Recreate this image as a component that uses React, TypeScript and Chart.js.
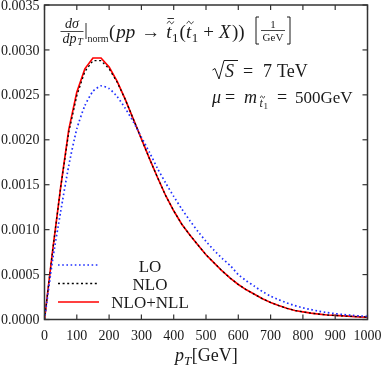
import React, { useEffect, useRef } from 'react';
import { Chart, registerables } from 'chart.js';

Chart.register(...registerables);

// ---- data ----
const pT = [0, 25, 50, 75, 100, 125, 150, 175, 200, 225, 250, 275, 300, 325, 350, 375, 400, 425, 450, 475, 500, 525, 550, 575, 600, 625, 650, 675, 700, 725, 750, 775, 800, 825, 850, 875, 900, 925, 950, 975, 1000];

const LO = [0, 0.00066, 0.0012, 0.00171, 0.00212, 0.00238, 0.00254, 0.0026, 0.00257, 0.00248, 0.00235, 0.0022, 0.00203, 0.00186, 0.00168, 0.00152, 0.00137, 0.00123, 0.0011, 0.00098, 0.00087, 0.00077, 0.00068, 0.0006, 0.0005, 0.00043, 0.00037, 0.00031, 0.00026, 0.00022, 0.000185, 0.000155, 0.00013, 0.00011, 0.000092, 0.000077, 0.000065, 0.000055, 0.000047, 0.00004, 0.000035];

const NLO = [0, 0.00076, 0.00147, 0.00208, 0.00249, 0.00276, 0.00288, 0.00288, 0.00279, 0.00264, 0.00245, 0.00223, 0.00201, 0.00179, 0.00158, 0.00138, 0.00121, 0.00106, 0.00094, 0.00083, 0.00072, 0.00063, 0.00054, 0.00046, 0.00039, 0.00033, 0.00028, 0.00023, 0.00019, 0.000155, 0.000125, 0.0001, 0.000085, 0.00007, 0.00006, 0.00005, 0.000045, 0.00004, 0.000035, 0.00003, 0.000027];

const NLO_NLL = [0, 0.00076, 0.00147, 0.00211, 0.00253, 0.00279, 0.00291, 0.00291, 0.00281, 0.00265, 0.00245, 0.00223, 0.00201, 0.00179, 0.00158, 0.00138, 0.00121, 0.00106, 0.00094, 0.00083, 0.00072, 0.00063, 0.00054, 0.00046, 0.00039, 0.00033, 0.00028, 0.00023, 0.00019, 0.000155, 0.000125, 0.0001, 0.000085, 0.00007, 0.00006, 0.00005, 0.000045, 0.00004, 0.000035, 0.00003, 0.000027];

const seriesLabels = ['LO', 'NLO', 'NLO+NLL'];

const xTicks = [0, 100, 200, 300, 400, 500, 600, 700, 800, 900, 1000];
const xTickLabels = ['0', '100', '200', '300', '400', '500', '600', '700', '800', '900', '1000'];
const yTicks = [0, 0.0005, 0.001, 0.0015, 0.002, 0.0025, 0.003, 0.0035];
const yTickLabels = ['0.0000', '0.0005', '0.0010', '0.0015', '0.0020', '0.0025', '0.0030', '0.0035'];

// ---- styling helpers ----
const SERIF = "'Liberation Serif', 'Times New Roman', serif";
const fnt = (size: number, italic = false) => `${italic ? 'italic ' : ''}${size}px ${SERIF}`;

const lookup = (vals: number[], labels: string[], v: number) => {
  const k = vals.findIndex((t) => Math.abs(t - v) < 1e-9);
  return k >= 0 ? labels[k] : '';
};

function seg(ctx: CanvasRenderingContext2D, x1: number, y1: number, x2: number, y2: number) {
  ctx.beginPath();
  ctx.moveTo(x1, y1);
  ctx.lineTo(x2, y2);
  ctx.stroke();
}

function tilde(ctx: CanvasRenderingContext2D, cx: number, cy: number, w: number) {
  ctx.beginPath();
  ctx.moveTo(cx - w / 2, cy + 1);
  ctx.bezierCurveTo(cx - w / 4, cy - 2, cx - w / 8, cy - 1.5, cx, cy);
  ctx.bezierCurveTo(cx + w / 8, cy + 1.5, cx + w / 4, cy + 2, cx + w / 2, cy - 1);
  ctx.stroke();
}

const annotPlugin = {
  id: 'annot',
  afterDraw(chart: any) {
    const ctx: CanvasRenderingContext2D = chart.ctx;
    const { left, right, top, bottom } = chart.chartArea;
    const xs = chart.scales.x;
    const ys = chart.scales.y;
    const ink = '#1a1a1a';
    ctx.save();

    // frame
    ctx.strokeStyle = '#333';
    ctx.lineWidth = 1.5;
    ctx.strokeRect(left, top, right - left, bottom - top);

    // inward ticks
    ctx.lineWidth = 1.2;
    xs.ticks.forEach((t: any) => {
      const x = xs.getPixelForValue(t.value);
      seg(ctx, x, bottom, x, bottom - 5);
      seg(ctx, x, top, x, top + 5);
    });
    ys.ticks.forEach((t: any) => {
      const y = ys.getPixelForValue(t.value);
      seg(ctx, left, y, left + 5, y);
      seg(ctx, right, y, right - 5, y);
    });

    // tick labels
    ctx.fillStyle = ink;
    ctx.font = fnt(14);
    ctx.textBaseline = 'alphabetic';
    ctx.textAlign = 'center';
    xs.ticks.forEach((t: any) => {
      const x = xs.getPixelForValue(t.value);
      ctx.fillText(t.label, x, 340);
    });
    ctx.textAlign = 'right';
    ys.ticks.forEach((t: any) => {
      const y = ys.getPixelForValue(t.value);
      ctx.fillText(t.label, left - 5, y + 4.6);
    });

    // axis title p_T[GeV]
    ctx.textAlign = 'left';
    let ax = 175;
    ctx.font = fnt(18, true);
    ctx.fillText('p', ax, 361);
    ax += ctx.measureText('p').width;
    ctx.font = fnt(13, true);
    ctx.fillText('T', ax, 365);
    ax += ctx.measureText('T').width + 0.5;
    ctx.font = fnt(18);
    ctx.fillText('[GeV]', ax, 361);

    // ---- formula at top ----
    ctx.strokeStyle = ink;
    ctx.lineWidth = 0.8;
    const fcx = 72;
    ctx.textAlign = 'center';
    ctx.font = fnt(14, true);
    ctx.fillText('d\u03C3', fcx, 28);
    seg(ctx, 60.5, 31.5, 83.5, 31.5);
    ctx.font = fnt(14, true);
    ctx.fillText('dp', fcx - 2.5, 42.5);
    ctx.font = fnt(10, true);
    ctx.fillText('T', fcx + 8, 45);
    // |norm
    ctx.lineWidth = 0.9;
    seg(ctx, 86, 23, 86, 39);
    ctx.textAlign = 'left';
    ctx.font = fnt(10);
    ctx.fillText('norm', 87.5, 42);

    let x = 109;
    const by = 38;
    const put = (s: string, font: string, dx = 0, dy = 0) => {
      ctx.font = font;
      x += dx;
      ctx.fillText(s, x, by + dy);
      const w = ctx.measureText(s).width;
      x += w;
      return w;
    };
    const tWithTilde = (bar: boolean) => {
      const x0 = x;
      const w = put('t', fnt(19, true));
      ctx.lineWidth = 0.9;
      tilde(ctx, x0 + w / 2 + 1.5, by - 15.5, 6.5);
      if (bar) seg(ctx, x0 + w / 2 - 1.5, by - 19.5, x0 + w / 2 + 5, by - 19.5);
    };
    put('(', fnt(19));
    put('pp', fnt(19, true), 1);
    x += 6;
    put('\u2192', fnt(19));
    x += 6;
    tWithTilde(true);
    put('1', fnt(13), 0.5, 4);
    put('(', fnt(19), 1);
    tWithTilde(false);
    put('1', fnt(13), 0.5, 4);
    x += 5;
    put('+', fnt(19));
    x += 5;
    put('X', fnt(19, true));
    put('))', fnt(19), 1.5);

    // [1/GeV]
    const bl = 256, br = 290;
    ctx.lineWidth = 1;
    ctx.beginPath();
    ctx.moveTo(bl + 3, 17); ctx.lineTo(bl, 17); ctx.lineTo(bl, 44); ctx.lineTo(bl + 3, 44);
    ctx.stroke();
    ctx.beginPath();
    ctx.moveTo(br - 3, 17); ctx.lineTo(br, 17); ctx.lineTo(br, 44); ctx.lineTo(br - 3, 44);
    ctx.stroke();
    ctx.textAlign = 'center';
    ctx.font = fnt(11);
    ctx.fillText('1', 273, 27.5);
    ctx.lineWidth = 0.8;
    seg(ctx, 261, 30.5, 285, 30.5);
    ctx.fillText('GeV', 273, 41);

    // sqrt(S) = 7 TeV
    ctx.textAlign = 'left';
    ctx.lineWidth = 1;
    ctx.beginPath();
    ctx.moveTo(212.5, 70);
    ctx.lineTo(215, 68.5);
    ctx.lineTo(219, 79);
    ctx.lineTo(224, 60.5);
    ctx.lineTo(238, 60.5);
    ctx.stroke();
    ctx.font = fnt(18, true);
    ctx.fillText('S', 225, 77);
    ctx.font = fnt(18);
    ctx.fillText('=', 243, 77);
    ctx.fillText('7', 263, 77);
    ctx.fillText('TeV', 277, 77);

    // mu = m_t1 = 500GeV
    ctx.font = fnt(18, true);
    ctx.fillText('\u03BC', 212, 103);
    ctx.font = fnt(18);
    ctx.fillText('=', 225, 103);
    ctx.font = fnt(18, true);
    ctx.fillText('m', 244, 103);
    ctx.font = fnt(12, true);
    ctx.fillText('t', 259.5, 107);
    ctx.lineWidth = 0.7;
    tilde(ctx, 262.5, 97, 4.5);
    ctx.font = fnt(9);
    ctx.fillText('1', 263.5, 109);
    ctx.font = fnt(18);
    ctx.fillText('=', 277, 103);
    ctx.font = fnt(17);
    ctx.fillText('500GeV', 295, 103);

    // ---- legend ----
    const lineY = [265, 283.5, 302];
    const textY = [272, 290, 308];
    chart.data.datasets.forEach((ds: any, i: number) => {
      ctx.strokeStyle = ds.borderColor;
      ctx.lineWidth = ds.borderWidth;
      ctx.setLineDash(ds.borderDash || []);
      seg(ctx, 58, lineY[i], 99, lineY[i]);
      ctx.setLineDash([]);
      ctx.fillStyle = ink;
      ctx.font = fnt(17);
      ctx.textAlign = 'center';
      ctx.fillText(ds.label, 150, textY[i]);
    });

    ctx.restore();
  },
};

export default function App() {
  const ref = useRef<HTMLCanvasElement | null>(null);

  useEffect(() => {
    document.body.style.margin = '0';
    const canvas = ref.current;
    if (!canvas) return;
    const mk = (vals: number[]) => pT.map((p, i) => ({ x: p, y: vals[i] }));
    const chart = new Chart(canvas, {
      type: 'line',
      data: {
        datasets: [
          {
            label: seriesLabels[0],
            data: mk(LO),
            borderColor: '#1f2fff',
            borderWidth: 1.7,
            borderDash: [1.6, 2.6],
            pointRadius: 0,
            tension: 0.2,
            fill: false,
          },
          {
            label: seriesLabels[1],
            data: mk(NLO),
            borderColor: '#000000',
            borderWidth: 1.3,
            borderDash: [2, 2.6],
            pointRadius: 0,
            tension: 0,
            fill: false,
          },
          {
            label: seriesLabels[2],
            data: mk(NLO_NLL),
            borderColor: '#ff0000',
            borderWidth: 1.7,
            pointRadius: 0,
            tension: 0,
            fill: false,
          },
        ],
      },
      options: {
        animation: false,
        responsive: false,
        devicePixelRatio: 1,
        layout: { padding: { left: 0, right: 14.5, top: 5, bottom: 0 } },
        plugins: { legend: { display: false }, tooltip: { enabled: false } },
        scales: {
          x: {
            type: 'linear',
            min: 0,
            max: 1000,
            ticks: { display: false, stepSize: 100, callback: (v: any) => lookup(xTicks, xTickLabels, Number(v)) },
            grid: { display: false },
            border: { display: false },
            afterFit: (s: any) => { s.height = 45.5; },
          },
          y: {
            type: 'linear',
            min: 0,
            max: 0.0035,
            ticks: { display: false, stepSize: 0.0005, callback: (v: any) => lookup(yTicks, yTickLabels, Number(v)) },
            grid: { display: false },
            border: { display: false },
            afterFit: (s: any) => { s.width = 44.5; },
          },
        },
      },
      plugins: [annotPlugin],
    } as any);
    return () => chart.destroy();
  }, []);

  return (
    <div style={{ position: 'fixed', left: 0, top: 0, width: 382, height: 365, background: '#fff' }}>
      <canvas ref={ref} width={382} height={365} style={{ width: 382, height: 365, display: 'block' }} />
    </div>
  );
}
